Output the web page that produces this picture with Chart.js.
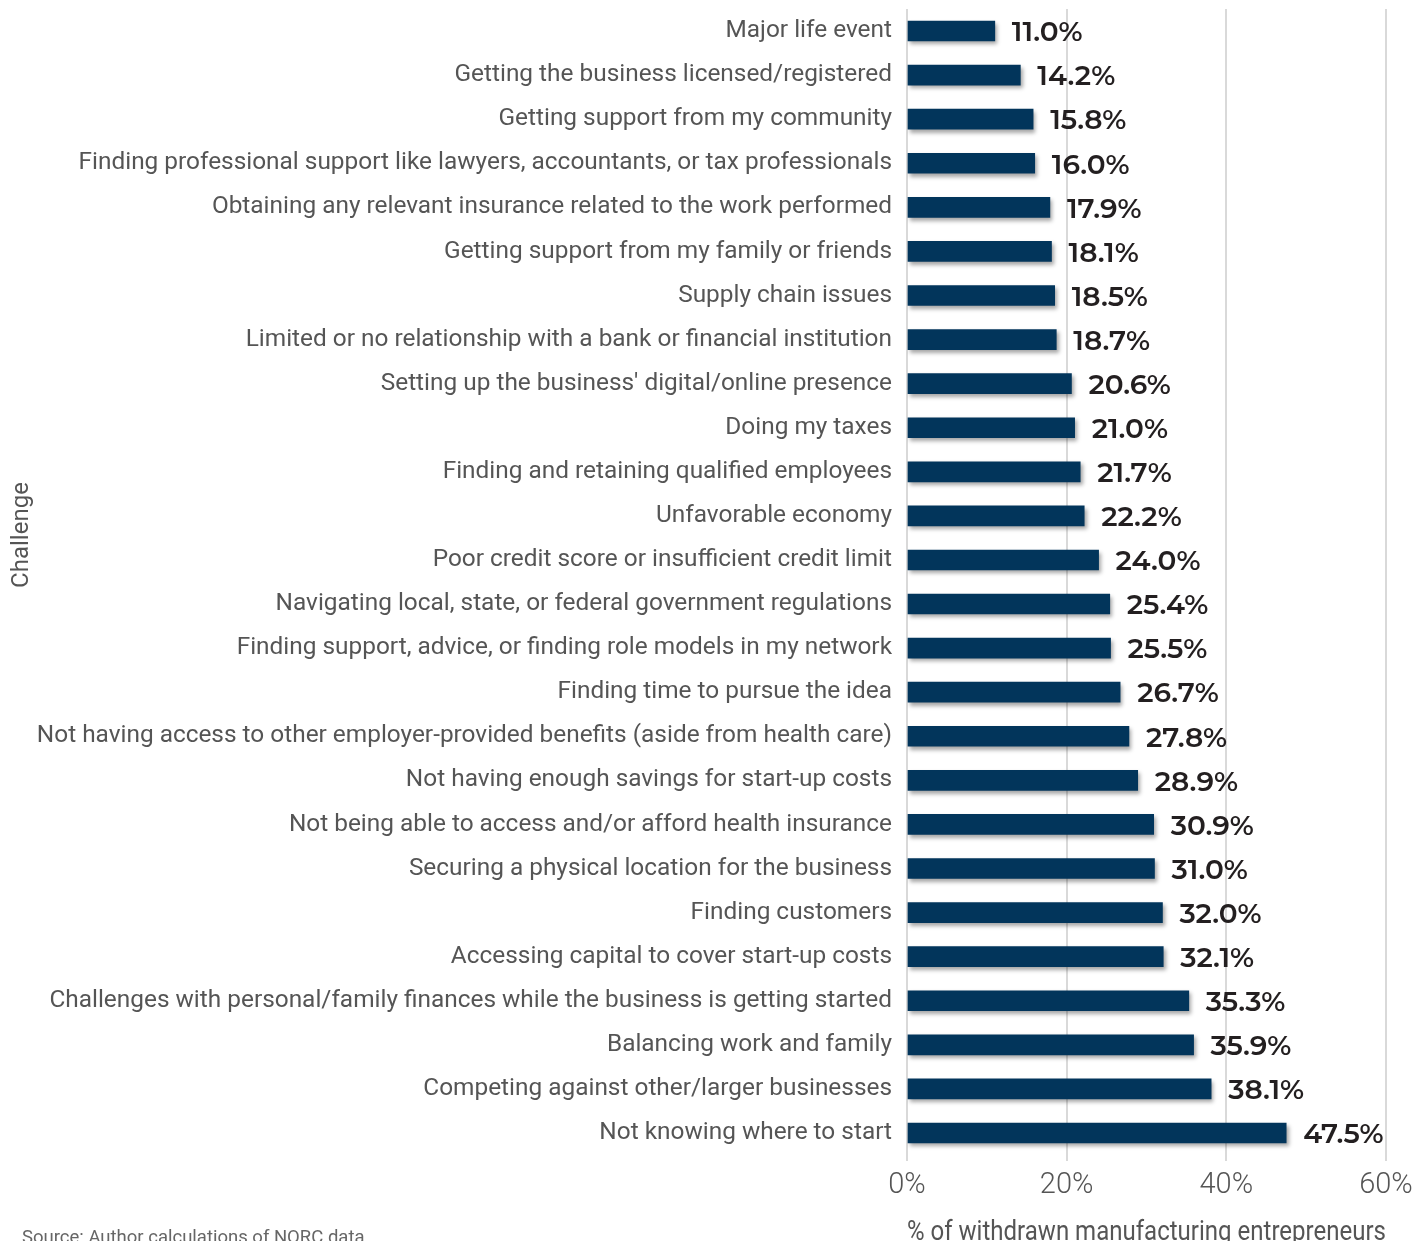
<!DOCTYPE html>
<html><head><meta charset="utf-8">
<script src="https://cdn.jsdelivr.net/npm/chart.js@4"></script>
<style>
html,body{margin:0;padding:0;background:#fff;}
#wrap{position:relative;width:1427px;height:1241px;overflow:hidden;}
#src{position:absolute;left:22px;top:1226px;font:18.5px Roboto, sans-serif;color:#666;white-space:nowrap;}
</style></head>
<body><div id="wrap"><canvas id="c" width="1427" height="1241"></canvas><div id="src">Source: Author calculations of NORC data</div></div>
<script>
const categories = [
"Major life event",
"Getting the business licensed/registered",
"Getting support from my community",
"Finding professional support like lawyers, accountants, or tax professionals",
"Obtaining any relevant insurance related to the work performed",
"Getting support from my family or friends",
"Supply chain issues",
"Limited or no relationship with a bank or financial institution",
"Setting up the business' digital/online presence",
"Doing my taxes",
"Finding and retaining qualified employees",
"Unfavorable economy",
"Poor credit score or insufficient credit limit",
"Navigating local, state, or federal government regulations",
"Finding support, advice, or finding role models in my network",
"Finding time to pursue the idea",
"Not having access to other employer-provided benefits (aside from health care)",
"Not having enough savings for start-up costs",
"Not being able to access and/or afford health insurance",
"Securing a physical location for the business",
"Finding customers",
"Accessing capital to cover start-up costs",
"Challenges with personal/family finances while the business is getting started",
"Balancing work and family",
"Competing against other/larger businesses",
"Not knowing where to start"
];
const values = [11.0,14.2,15.8,16.0,17.9,18.1,18.5,18.7,20.6,21.0,21.7,22.2,24.0,25.4,25.5,26.7,27.8,28.9,30.9,31.0,32.0,32.1,35.3,35.9,38.1,47.5];
const xTicks = [0,20,40,60];
const xTitle = "% of withdrawn manufacturing entrepreneurs";
const yTitle = "Challenge";

const FONT = "Roboto, 'Noto Sans', sans-serif";

const shadowPlugin = {
  id:'shadow',
  beforeDatasetsDraw(chart){
    const ctx=chart.ctx; ctx.save();
    ctx.shadowColor='rgba(0,0,0,0.35)'; ctx.shadowBlur=4; ctx.shadowOffsetX=2; ctx.shadowOffsetY=3;
  },
  afterDatasetsDraw(chart){
    const ctx=chart.ctx; ctx.restore();
    const meta=chart.getDatasetMeta(0);
    ctx.save();
    ctx.font="600 28px 'Montserrat','Lato','Open Sans',sans-serif";
    ctx.fillStyle='#231f20'; ctx.textBaseline='middle'; ctx.textAlign='left';
    meta.data.forEach((bar,i)=>{
      ctx.fillText(values[i].toFixed(1)+'%', bar.x+17, bar.y+2);
    });
    ctx.translate(22,535); ctx.rotate(-Math.PI/2);
    ctx.font="24px "+FONT; ctx.fillStyle='#555'; ctx.textAlign='center';
    ctx.fillText(yTitle,0,0);
    ctx.restore();
  }
};

new Chart(document.getElementById('c'),{
  type:'bar',
  data:{labels:categories,datasets:[{data:values,backgroundColor:'#02355b',barThickness:20,borderWidth:0}]},
  options:{
    indexAxis:'y',responsive:false,animation:false,
    layout:{padding:{top:9,right:41,left:0,bottom:0}},
    plugins:{legend:{display:false},tooltip:{enabled:false}},
    scales:{
      x:{min:0,max:60,
        afterBuildTicks(s){s.ticks=xTicks.map(v=>({value:v}));},
        afterFit(s){s.height=86;},
        grid:{color:'#d9d9d9',lineWidth:2,drawTicks:true,tickLength:6},
        border:{display:false},
        ticks:{callback:v=>v+'%',color:'#555',font:{family:FONT,size:29,weight:'300'},padding:7},
        title:{display:true,text:xTitle,color:'#555',font:{family:FONT,size:27},padding:{top:16,bottom:-8}}
      },
      y:{
        afterFit(s){s.width=907; s.paddingTop=0; s.paddingBottom=0;},
        grid:{display:false,drawTicks:false},border:{display:false},
        ticks:{color:'#555',font:{family:FONT,size:24.4},padding:15,autoSkip:false}
      }
    }
  },
  plugins:[shadowPlugin]
});
</script></body></html>
